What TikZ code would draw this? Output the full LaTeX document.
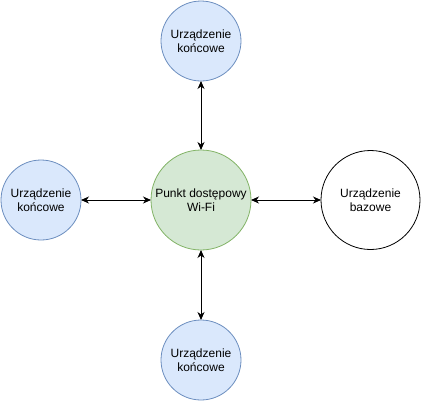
\documentclass[tikz,border=0pt]{standalone}
\usepackage{fontspec}
\setmainfont{Liberation Sans}
\usetikzlibrary{arrows.meta}
\definecolor{bluefill}{HTML}{DAE8FC}
\definecolor{bluestroke}{HTML}{6C8EBF}
\definecolor{greenfill}{HTML}{D5E8D4}
\definecolor{greenstroke}{HTML}{82B366}
\begin{document}
\begin{tikzpicture}[x=1pt,y=-1pt,
  every node/.style={font=\fontsize{12}{14}\selectfont, align=center, inner sep=0pt, outer sep=0pt},
  devnode/.style={circle, draw=bluestroke, fill=bluefill, line width=0.8pt, minimum size=80pt},
  apnode/.style={circle, draw=greenstroke, fill=greenfill, line width=0.8pt, minimum size=100pt},
  basenode/.style={circle, draw=black, fill=white, line width=0.8pt, minimum size=99pt},
  link/.style={line width=0.9pt, {Stealth[length=8pt,width=7pt,inset=2.5pt]}-{Stealth[length=8pt,width=7pt,inset=2.5pt]}}
]
\useasboundingbox (0,0) rectangle (421,402);
\node[apnode] (ap) at (201,200) {Punkt dostępowy\\Wi-Fi};
\node[devnode] (top) at (201,41) {Urządzenie\\końcowe};
\node[devnode] (left) at (41,200) {Urządzenie\\końcowe};
\node[devnode] (bottom) at (201,360) {Urządzenie\\końcowe};
\node[basenode] (base) at (370.5,200) {Urządzenie\\bazowe};
\draw[link] (top) -- (ap);
\draw[link] (left) -- (ap);
\draw[link] (ap) -- (base);
\draw[link] (ap) -- (bottom);
\end{tikzpicture}
\end{document}
